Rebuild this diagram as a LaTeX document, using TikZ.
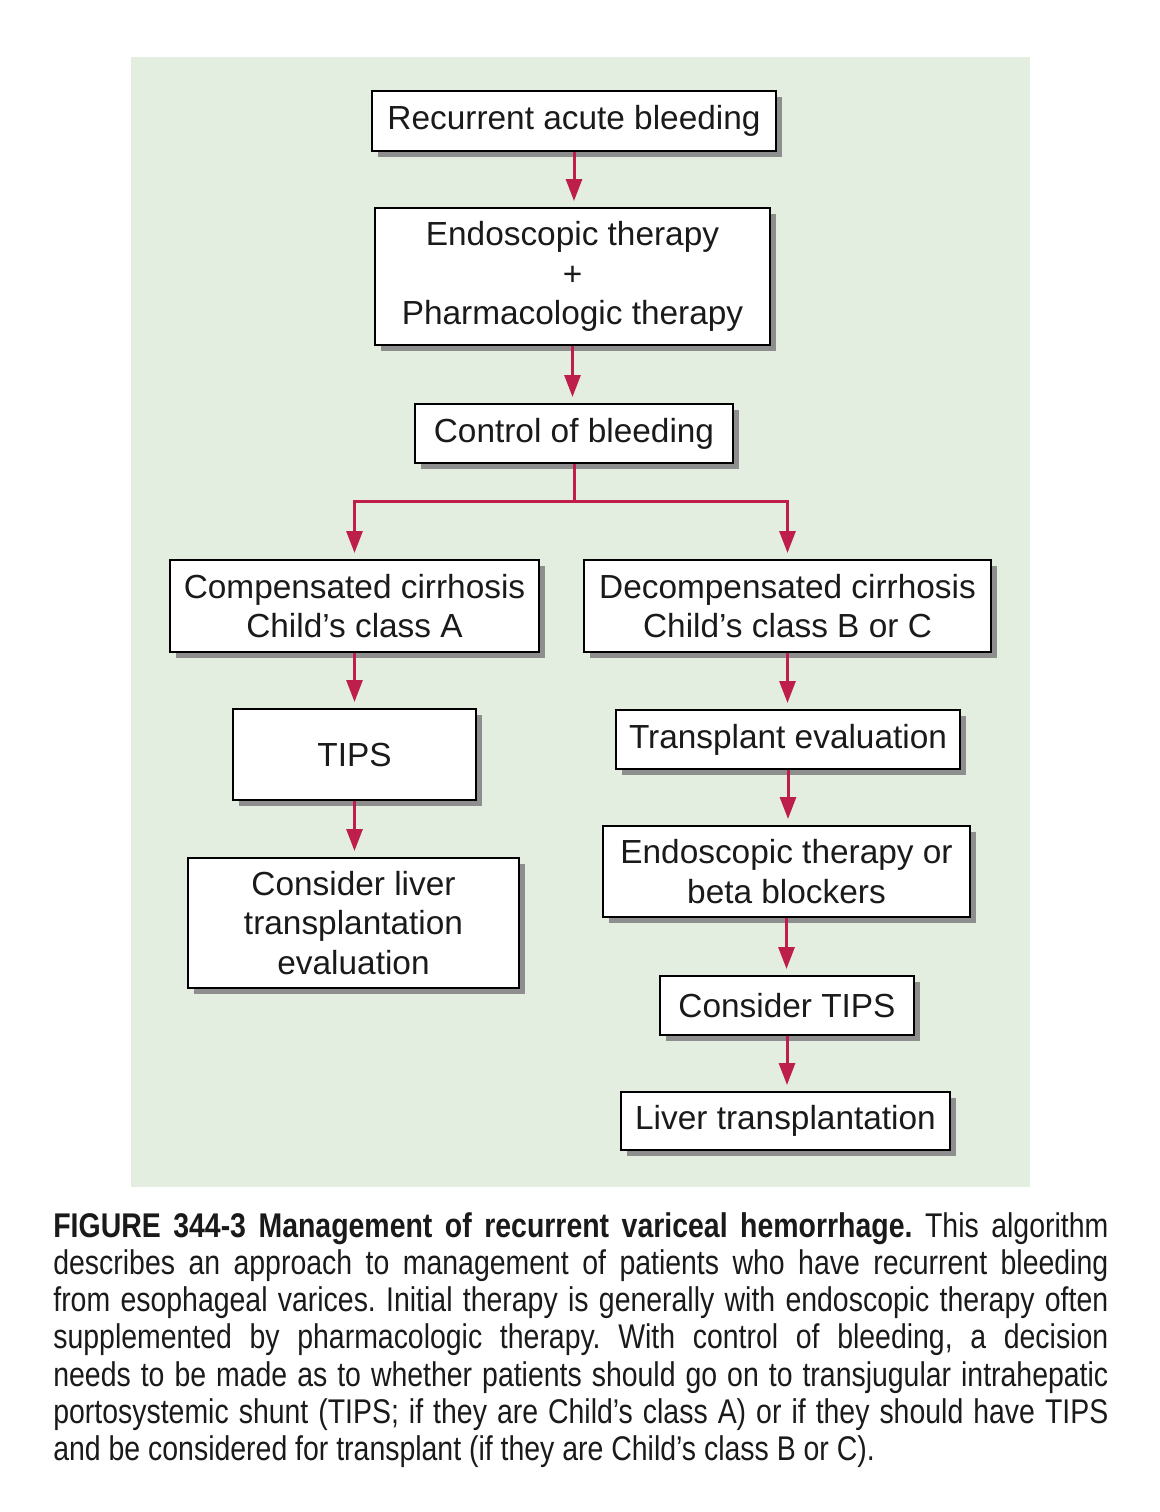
\documentclass[tikz,border=0pt]{standalone}
\usepackage{fontspec}
\setmainfont{Liberation Sans}
\newfontfamily\capfont[FakeStretch=0.83]{Liberation Sans}
\usetikzlibrary{arrows.meta,shadows}
\definecolor{bggreen}{HTML}{E3EEE1}
\definecolor{arrowred}{HTML}{BE1E4B}
\definecolor{shadowgray}{HTML}{8E8E8E}
\definecolor{inkblack}{HTML}{1A1A1A}

\tikzset{
  box/.style={draw=black, line width=0.04cm, fill=white, inner sep=0pt, align=center,
    text=inkblack, font=\fontsize{19}{22.5}\selectfont,
    drop shadow={shadow xshift=0.11cm, shadow yshift=-0.11cm, fill=shadowgray, opacity=1}},
  arr/.style={arrowred, line width=0.06cm, -{Triangle[width=0.32cm,length=0.44cm]}, shorten >=0.12cm}
}

\begin{document}
\begin{tikzpicture}
\useasboundingbox (0,0) rectangle (23.2,-30.24);
\fill[bggreen] (2.62,-1.14) rectangle (20.6,-23.74);

%Boxes
\node (rab) at (11.48,-2.42) [box, minimum width=8.08cm, minimum height=1.2cm] {Recurrent acute bleeding};
\node (endo) at (11.45,-5.53) [box, minimum width=7.9cm, minimum height=2.74cm] {Endoscopic therapy\\+\\Pharmacologic therapy};
\node (ctrl) at (11.48,-8.67) [box, minimum width=6.36cm, minimum height=1.18cm] {Control of bleeding};
\node (comp) at (7.09,-12.12) [box, minimum width=7.38cm, minimum height=1.84cm] {Compensated cirrhosis\\Child’s class A};
\node (decomp) at (15.75,-12.12) [box, minimum width=8.14cm, minimum height=1.84cm] {Decompensated cirrhosis\\Child’s class B or C};
\node (tips) at (7.09,-15.09) [box, minimum width=4.86cm, minimum height=1.82cm] {TIPS};
\node (transev) at (15.76,-14.79) [box, minimum width=6.88cm, minimum height=1.18cm] {Transplant evaluation};
\node (livev) at (7.07,-18.46) [box, minimum width=6.62cm, minimum height=2.6cm] {Consider liver\\transplantation\\evaluation};
\node (endobeta) at (15.73,-17.43) [box, minimum width=7.34cm, minimum height=1.82cm] {Endoscopic therapy or\\beta blockers};
\node (ctips) at (15.74,-20.11) [box, minimum width=5.08cm, minimum height=1.18cm] {Consider TIPS};
\node (livtr) at (15.71,-22.42) [box, minimum width=6.58cm, minimum height=1.16cm] {Liver transplantation};

%Arrows
\coordinate (split) at (ctrl.south |- 0,-10.02);
\draw[arr] (rab.south) -- (rab.south |- endo.north);
\draw[arr] (endo.south) -- (endo.south |- ctrl.north);
\draw[arrowred, line width=0.06cm] (ctrl.south) -- (split);
\draw[arr] (split) -| (comp.north);
\draw[arr] (split) -| (decomp.north);
\draw[arr] (comp.south) -- (comp.south |- tips.north);
\draw[arr] (tips.south) -- (tips.south |- livev.north);
\draw[arr] (decomp.south) -- (decomp.south |- transev.north);
\draw[arr] (transev.south) -- (transev.south |- endobeta.north);
\draw[arr] (endobeta.south) -- (endobeta.south |- ctips.north);
\draw[arr] (ctips.south) -- (ctips.south |- livtr.north);

%Caption
\node (cap) at (1.06,-24.74) [anchor=base west, inner sep=0pt, text width=21.1cm, align=justify, text=inkblack,
  font=\capfont\fontsize{19.5}{21.2}\selectfont] {\hyphenpenalty=10000\frenchspacing
  \textbf{FIGURE 344-3 Management of recurrent variceal hemorrhage.} This algorithm\linebreak
  describes an approach to management of patients who have recurrent bleeding\linebreak
  from esophageal varices. Initial therapy is generally with endoscopic therapy often\linebreak
  supplemented by pharmacologic therapy. With control of bleeding, a decision\linebreak
  needs to be made as to whether patients should go on to transjugular intrahepatic\linebreak
  portosystemic shunt (TIPS; if they are Child’s class A) or if they should have TIPS\linebreak
  and be considered for transplant (if they are Child’s class B or C).};
\end{tikzpicture}
\end{document}
